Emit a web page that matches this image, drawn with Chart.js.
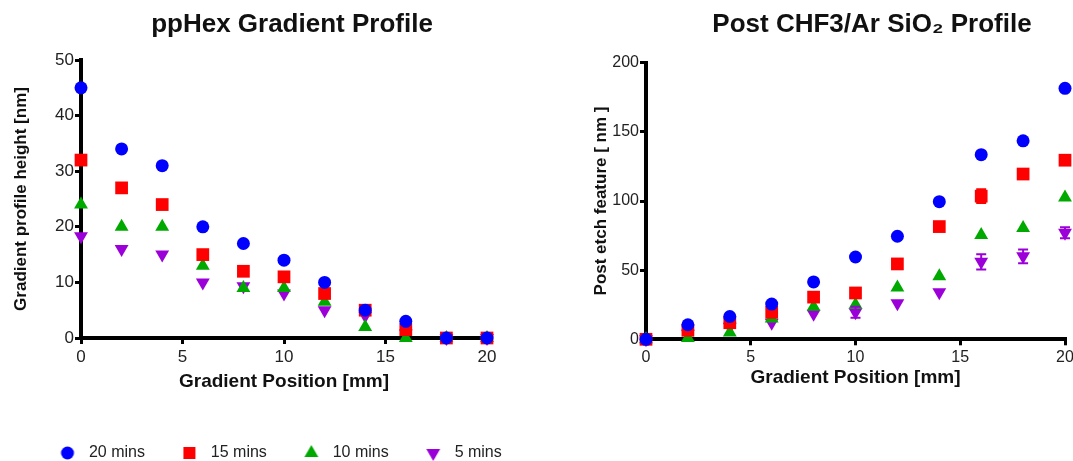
<!DOCTYPE html>
<html>
<head>
<meta charset="utf-8">
<script src="https://cdn.jsdelivr.net/npm/chart.js@4/dist/chart.umd.min.js"></script>
<style>
  html, body { margin: 0; padding: 0; background: #fff; }
  body { position: relative; width: 1073px; height: 461px; overflow: hidden; }
  canvas { position: absolute; top: 0; }
  #leftChart { left: 0; }
  #rightChart { left: 590px; }
</style>
</head>
<body>
<canvas id="leftChart" width="584" height="471"></canvas>
<canvas id="rightChart" width="564" height="400"></canvas>
<script>
// gradient positions (mm), shared by both panels
const positions = [0, 2, 4, 6, 8, 10, 12, 14, 16, 18, 20];
const seriesNames = ['20 mins', '15 mins', '10 mins', '5 mins'];

// ppHex gradient profile height [nm]
const height20 = [45, 34, 31, 20, 17, 14, 10, 5, 3, 0, 0];
const height15 = [32, 27, 24, 15, 12, 11, 8, 5, 1.5, 0, 0];
const height10 = [24, 20, 20, 13, 9, 9, 6.5, 2, 0, 0, 0];
const height5  = [18.3, 16, 15, 10, 9.3, 8, 5, 4, 0.8, 0, 0];

// post CHF3/Ar etch feature [nm]
const etch20 = [0, 10.5, 16.5, 25.5, 41.5, 59.5, 74.5, 99.5, 133.5, 143.5, 181.5];
const etch15 = [0, 6.5, 12, 19.5, 30.5, 33.5, 54.5, 81.5, 103.5, 119.5, 129.5];
const etch10 = [0, 1, 5, 15, 23.5, 25, 37.5, 45.5, 75.5, 80.5, 102.5];
const etch5  = [0, 4, 9, 12, 18.5, 19.5, 26, 34, 56, 60, 77];
// error bars (+/-) seen on the etch panel
const etchErr15 = [0, 0, 0, 0, 0, 0, 0, 0, 5, 0, 0];
const etchErr5  = [0, 0, 0, 0, 0, 4, 0, 0, 5.5, 5, 4];

const xTicks = [0, 5, 10, 15, 20];

const fontFamily = '"Liberation Sans", Arial, sans-serif';
const colors = ['#0000ff', '#ff0000', '#00a900', '#9b00d8'];
const markers = [
    { pointStyle: 'circle', pointRadius: 6.5, pointRotation: 0 },
    { pointStyle: 'rect', pointRadius: 9, pointRotation: 0 },
    { pointStyle: 'triangle', pointRadius: 8, pointRotation: 0 },
    { pointStyle: 'triangle', pointRadius: 8, pointRotation: 180 }
];
const legendRadius = [6.5, 8.5, 8, 8];

function toPoints(values) {
    return values.map((v, i) => ({ x: positions[i], y: v }));
}

function makeDatasets(seriesList, errorList) {
    return seriesList.map((values, i) => ({
        label: seriesNames[i],
        data: toPoints(values),
        errors: errorList ? errorList[i] : null,
        backgroundColor: colors[i],
        borderColor: colors[i],
        pointBorderWidth: 0,
        pointHoverRadius: markers[i].pointRadius,
        clip: false,
        ...markers[i]
    }));
}

// small legend icon, drawn with the library's own point helper
function legendIcon(i) {
    const c = document.createElement('canvas');
    c.width = 20; c.height = 20;
    const ctx = c.getContext('2d');
    ctx.fillStyle = colors[i];
    ctx.strokeStyle = colors[i];
    ctx.lineWidth = 0;
    Chart.helpers.drawPoint(ctx, {
        pointStyle: markers[i].pointStyle,
        radius: legendRadius[i],
        rotation: markers[i].pointRotation,
        borderWidth: 0
    }, 10, 10);
    return c;
}

// vertical error bars with caps, placed through the chart scales
const errorBars = {
    id: 'errorBars',
    afterDatasetsDraw(chart) {
        const { ctx, scales: { x, y } } = chart;
        chart.data.datasets.forEach(ds => {
            if (!ds.errors) return;
            ctx.save();
            ctx.strokeStyle = ds.borderColor;
            ctx.lineWidth = 2;
            ds.data.forEach((p, j) => {
                const e = ds.errors[j];
                if (!e) return;
                const px = x.getPixelForValue(p.x);
                const top = y.getPixelForValue(p.y + e);
                const bot = y.getPixelForValue(p.y - e);
                ctx.beginPath();
                ctx.moveTo(px, top); ctx.lineTo(px, bot);
                ctx.moveTo(px - 5, top); ctx.lineTo(px + 5, top);
                ctx.moveTo(px - 5, bot); ctx.lineTo(px + 5, bot);
                ctx.stroke();
            });
            ctx.restore();
        });
    }
};

function axisStyle(tickSize) {
    return {
        border: { display: true, color: '#000', width: 4 },
        grid: { display: true, drawOnChartArea: false, drawTicks: true, tickLength: 6, color: '#000', lineWidth: 3 },
        ticks: { color: '#222', font: { family: fontFamily, size: tickSize } }
    };
}

function makeChart(id, cfg) {
    const base = axisStyle(cfg.tickSize);
    return new Chart(document.getElementById(id), {
        type: 'scatter',
        data: { datasets: cfg.datasets },
        options: {
            responsive: false,
            animation: false,
            layout: { padding: cfg.padding },
            plugins: {
                title: {
                    display: true,
                    text: cfg.title,
                    color: '#111',
                    font: { family: fontFamily, size: 26, weight: 'bold' },
                    padding: { top: 9, bottom: cfg.titleGap }
                },
                legend: cfg.legend,
                tooltip: { enabled: false }
            },
            scales: {
                x: {
                    type: 'linear',
                    min: 0, max: 20,
                    afterBuildTicks: axis => { axis.ticks = xTicks.map(v => ({ value: v })); },
                    border: base.border,
                    grid: base.grid,
                    ticks: { ...base.ticks, padding: 3 },
                    title: {
                        display: true,
                        text: 'Gradient Position [mm]',
                        color: '#111',
                        font: { family: fontFamily, size: 19, weight: 'bold' },
                        padding: { top: 0, bottom: cfg.xTitlePad }
                    },
                    afterFit: axis => { axis.height = cfg.xAxisHeight; }
                },
                y: {
                    type: 'linear',
                    min: 0, max: cfg.yMax,
                    ticks: { ...base.ticks, stepSize: cfg.yStep, padding: 1 },
                    border: base.border,
                    grid: base.grid,
                    title: {
                        display: true,
                        text: cfg.yTitle,
                        color: '#111',
                        font: { family: fontFamily, size: 17, weight: 'bold' },
                        padding: { top: cfg.yTitlePad, bottom: 0 }
                    },
                    afterFit: axis => { axis.width = cfg.yAxisWidth; }
                },
                // empty right-hand box, keeps the plot where the original sits
                pad: {
                    type: 'linear',
                    position: 'right',
                    grid: { display: false },
                    border: { display: false },
                    ticks: { display: false },
                    afterFit: axis => { axis.width = cfg.rightWidth; }
                }
            }
        },
        plugins: [errorBars]
    });
}

makeChart('leftChart', {
    title: 'ppHex Gradient Profile',
    datasets: makeDatasets([height20, height15, height10, height5]),
    padding: { left: 23, right: 23, top: 0, bottom: 0 },
    titleGap: 19.8,
    tickSize: 17,
    yMax: 50, yStep: 10,
    yTitle: 'Gradient profile height [nm]',
    yTitlePad: -12,
    yAxisWidth: 58,
    rightWidth: 74,
    xAxisHeight: 67,
    xTitlePad: 12,
    legend: {
        display: true,
        position: 'bottom',
        align: 'start',
        labels: {
            usePointStyle: true,
            boxWidth: 9,
            boxHeight: 9,
            padding: 40,
            color: '#222',
            font: { family: fontFamily, size: 16 },
            generateLabels: chart => Chart.defaults.plugins.legend.labels.generateLabels(chart)
                .map((item, i) => ({ ...item, pointStyle: legendIcon(i), rotation: 0, text: '  ' + item.text }))
        }
    }
});

makeChart('rightChart', {
    title: 'Post CHF3/Ar SiO\u2082 Profile',
    datasets: makeDatasets([etch20, etch15, etch10, etch5], [null, etchErr15, null, etchErr5]),
    padding: { left: 0, right: 0, top: 0, bottom: 0 },
    titleGap: 22.5,
    tickSize: 16,
    yMax: 200, yStep: 50,
    yTitle: 'Post etch feature [ nm ]',
    yTitlePad: 1,
    yAxisWidth: 56,
    rightWidth: 89,
    xAxisHeight: 60.7,
    xTitlePad: 11,
    legend: { display: false }
});
</script>
</body>
</html>
